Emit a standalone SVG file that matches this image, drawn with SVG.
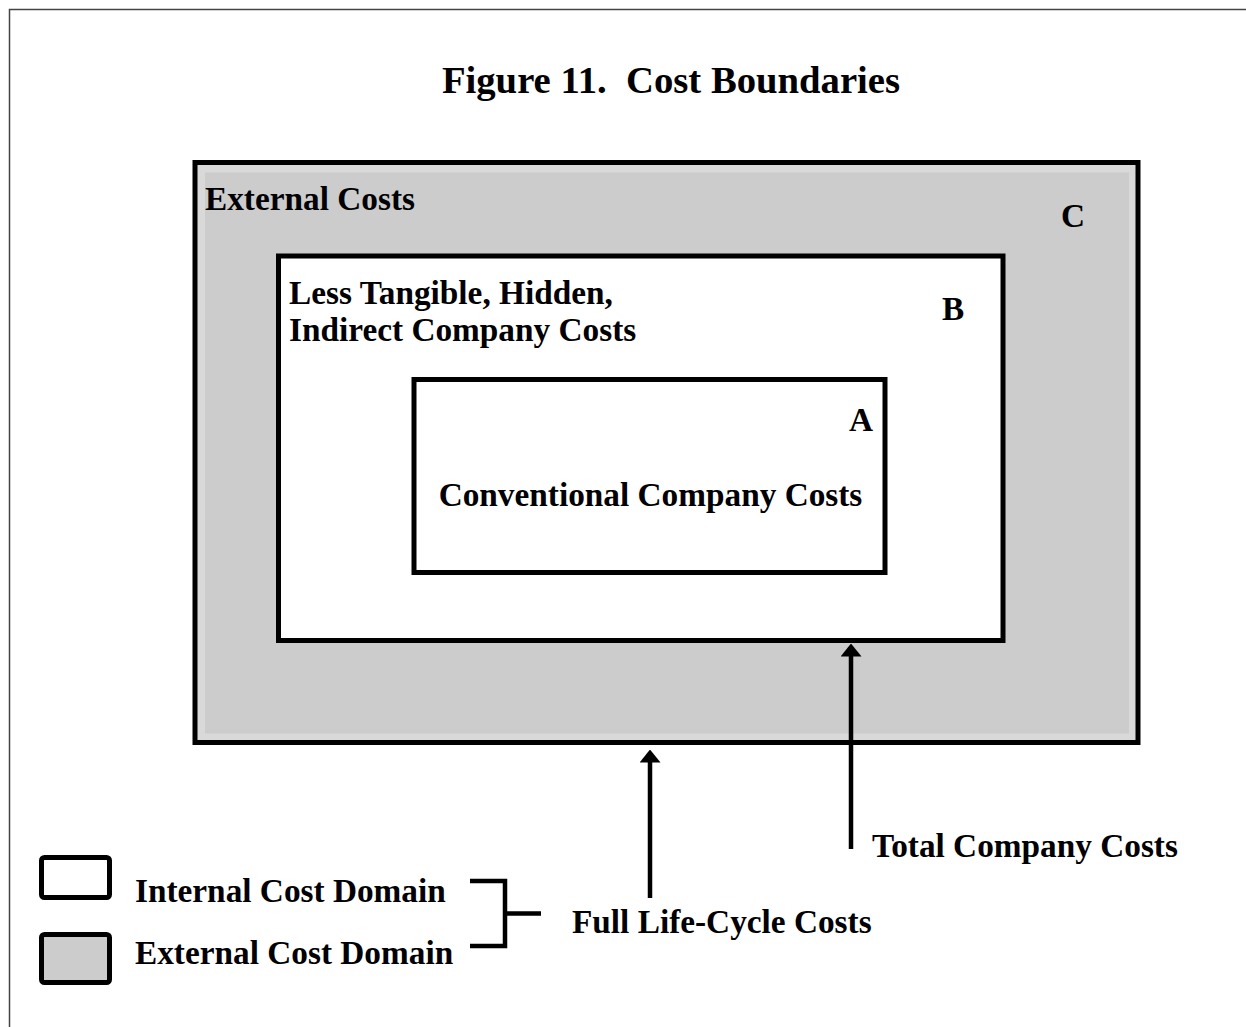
<svg xmlns="http://www.w3.org/2000/svg" width="1246" height="1027" viewBox="0 0 1246 1027">
<style>
text{font-family:"Liberation Serif","Times New Roman",serif;font-weight:bold;fill:#000}
.t{font-size:33.3px}
.box{stroke:#000;stroke-width:5}
.ln{stroke:#000;stroke-width:4.5;fill:none}
</style>
<defs>
<marker id="ah" markerUnits="userSpaceOnUse" markerWidth="13" markerHeight="21" refX="0.5" refY="10.5" orient="auto" viewBox="0 0 13 21">
<path d="M0,0 L13,10.5 L0,21 Z" fill="#000"/>
</marker>
</defs>
<rect width="1246" height="1027" fill="#fff"/>
<path d="M9.5,1027 V9.5 H1246" fill="none" stroke="#444" stroke-width="1.5"/>
<text x="671" y="93" font-size="38.7" text-anchor="middle" xml:space="preserve">Figure 11.  Cost Boundaries</text>
<g id="nodeC">
<rect class="box" x="195" y="162.5" width="943" height="580" fill="#d9d9d9"/>
<rect x="205" y="172.5" width="924" height="561" fill="#cccccc"/>
<text class="t" x="205" y="210">External Costs</text>
<text class="t" x="1061" y="227">C</text>
</g>
<g id="nodeB">
<rect class="box" x="278.5" y="256" width="724.5" height="384.5" fill="#fff"/>
<text class="t" x="289" y="304">Less Tangible, Hidden,</text>
<text class="t" x="289" y="341">Indirect Company Costs</text>
<text class="t" x="942" y="320">B</text>
</g>
<g id="nodeA">
<rect class="box" x="414" y="379.5" width="471" height="193" fill="#fff"/>
<text class="t" x="849" y="431">A</text>
<text class="t" x="650.5" y="506" text-anchor="middle">Conventional Company Costs</text>
</g>
<g id="legend">
<rect class="box" x="41.5" y="857.5" width="68" height="40" rx="3" fill="#fff"/>
<rect class="box" x="41.5" y="934.5" width="68" height="48" rx="3" fill="#cccccc"/>
<text class="t" x="135" y="902">Internal Cost Domain</text>
<text class="t" x="135" y="964">External Cost Domain</text>
</g>
<g id="labels">
<text class="t" x="872" y="857">Total Company Costs</text>
<text class="t" x="572" y="933">Full Life-Cycle Costs</text>
</g>
<g id="connectors">
<line class="ln" x1="650" y1="898" x2="650" y2="762" marker-end="url(#ah)"/>
<line class="ln" x1="851" y1="849" x2="851" y2="656" marker-end="url(#ah)"/>
<path class="ln" d="M470,881 H505 V946 H470 M505,913.5 H541"/>
</g>
</svg>
